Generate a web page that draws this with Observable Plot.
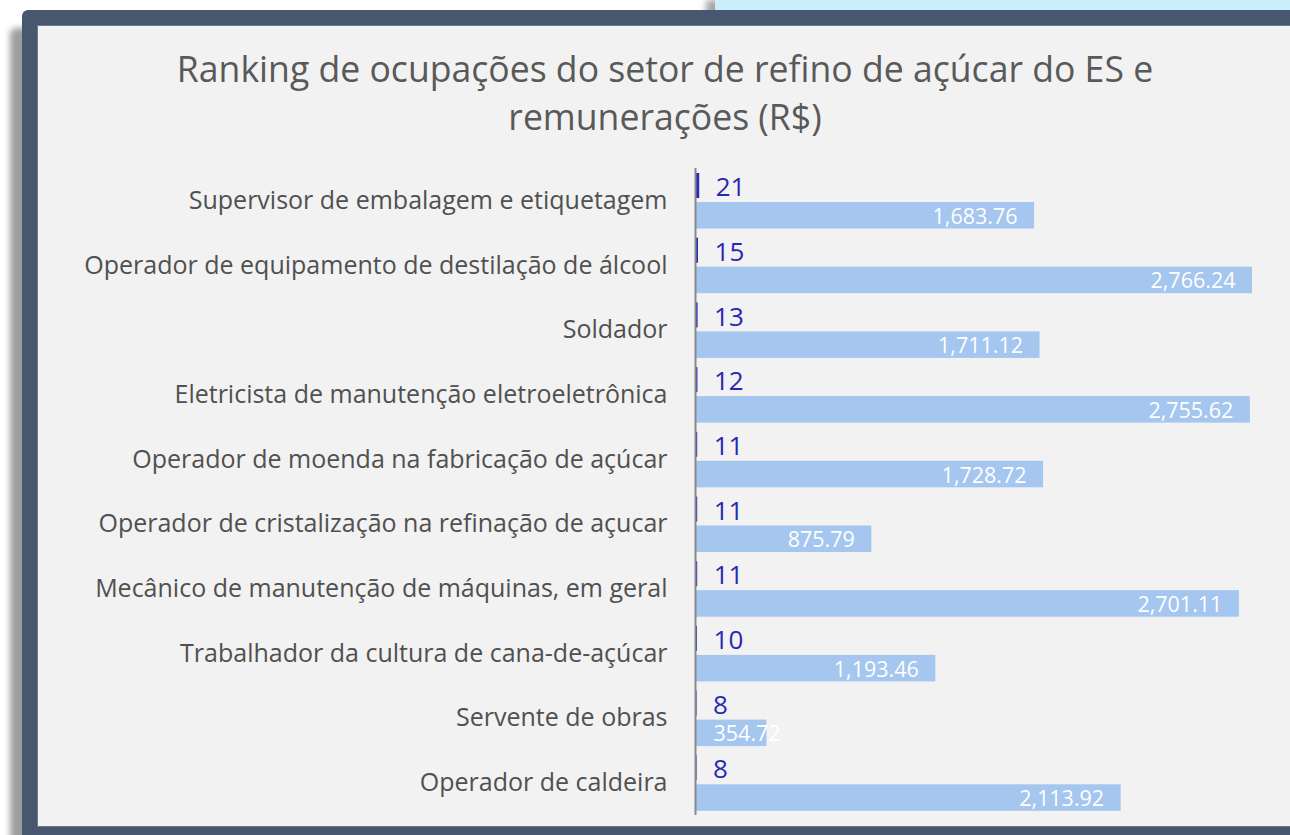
<!DOCTYPE html>
<html>
<head>
<meta charset="utf-8">
<script src="https://cdn.jsdelivr.net/npm/d3@7"></script>
<script src="https://cdn.jsdelivr.net/npm/@observablehq/plot@0.6"></script>
<style>
  html, body { margin: 0; padding: 0; background: #ffffff; width: 1290px; height: 835px; overflow: hidden; }
  #topbox { position: absolute; left: 715px; top: 0; width: 600px; height: 20px; background: #c9eefa; box-shadow: -9px 0 6px rgba(0,0,0,0.35); }
  #frame { position: absolute; left: 22px; top: 10px; width: 1320px; height: 860px; background: #47576f; border-radius: 6px; box-shadow: -12px 18px 6px rgba(0,0,0,0.38); }
  #panel { position: absolute; left: 38px; top: 26px; width: 1300px; height: 800px; background: #f2f2f2; box-shadow: 0 0 0 1px #6c7a8e; }
  #title { position: absolute; left: 38px; top: 44px; width: 1254px; text-align: center; font-family: "Open Sans", sans-serif; font-size: 35.6px; line-height: 48px; color: #595959; }
  #chart { position: absolute; left: 0; top: 140px; line-height: 0; }
</style>
</head>
<body>
<div id="topbox"></div>
<div id="frame"></div>
<div id="panel"></div>
<div id="title">Ranking de ocupações do setor de refino de açúcar do ES e<br>remunerações (R$)</div>
<div id="chart"></div>
<script>
const occupations = [
  "Supervisor de embalagem e etiquetagem",
  "Operador de equipamento de destilação de álcool",
  "Soldador",
  "Eletricista de manutenção eletroeletrônica",
  "Operador de moenda na fabricação de açúcar",
  "Operador de cristalização na refinação de açucar",
  "Mecânico de manutenção de máquinas, em geral",
  "Trabalhador da cultura de cana-de-açúcar",
  "Servente de obras",
  "Operador de caldeira"
];
const counts = [21, 15, 13, 12, 11, 11, 11, 10, 8, 8];
const salaries = [1683.76, 2766.24, 1711.12, 2755.62, 1728.72, 875.79, 2701.11, 1193.46, 354.72, 2113.92];

const data = occupations.map((occ, i) => ({occ, count: counts[i], salary: salaries[i]}));
const fmt = d3.format(",.2f");

const chart = Plot.plot({
  width: 1290,
  height: 695,
  marginLeft: 695,
  marginRight: 1,
  marginTop: 28,
  marginBottom: 20,
  style: {background: "transparent", fontFamily: "Open Sans, sans-serif", color: "#505050", overflow: "visible"},
  x: {domain: [0, 2950], axis: null},
  y: {domain: occupations, padding: 0, round: false, axis: null, label: null},
  marks: [
    Plot.barX(data, {x: "salary", y: "occ", fill: "#a4c6ef", insetTop: 34, insetBottom: 4.2}),
    Plot.barX(data, {x: "count", y: "occ", fill: "#2b2bb8", insetTop: 5, insetBottom: 34.7}),
    Plot.ruleX([0], {stroke: "#8a8a8a", strokeWidth: 2}),
    Plot.axisY({tickSize: 0, tickPadding: 28, fontSize: 25, fill: "#505050", label: null}),
    Plot.text(data, {x: "count", y: "occ", text: d => String(d.count), textAnchor: "start", dx: 16, dy: -13, fontSize: 26, fill: "#2828b4"}),
    Plot.text(data.filter(d => d.salary >= 600), {x: "salary", y: "occ", text: d => fmt(d.salary), textAnchor: "end", dx: -17, dy: 16, fontSize: 21.5, fill: "#ffffff"}),
    Plot.text(data.filter(d => d.salary < 600), {x: 0, y: "occ", text: d => fmt(d.salary), textAnchor: "start", dx: 18, dy: 16, fontSize: 21.5, fill: "#ffffff"})
  ]
});
document.getElementById("chart").appendChild(chart);
</script>
</body>
</html>
